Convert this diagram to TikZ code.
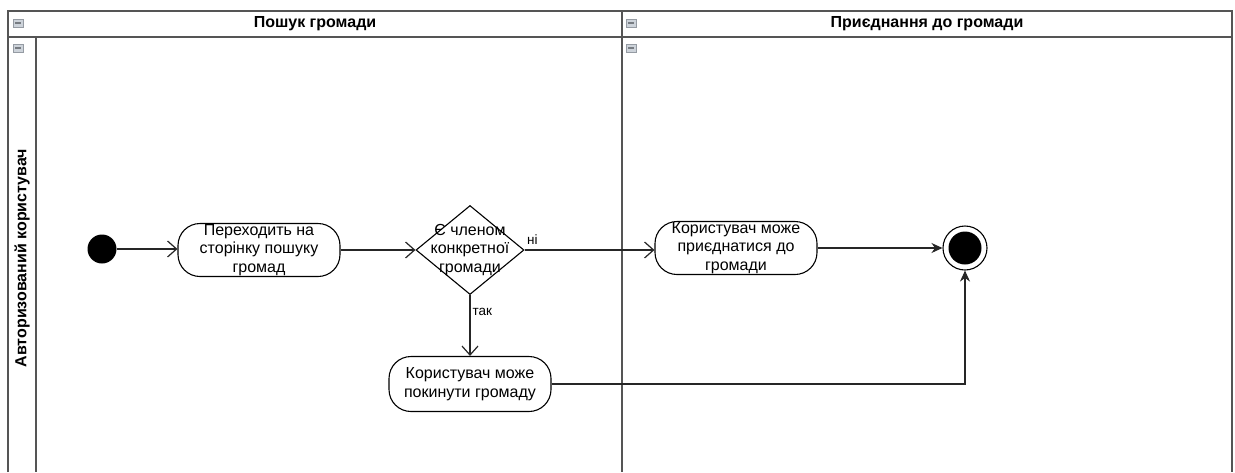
\documentclass[tikz,border=0pt]{standalone}
\usepackage{fontspec}
\setmainfont{Liberation Sans}
\usetikzlibrary{arrows.meta,shapes.geometric}
\definecolor{frame}{HTML}{555555}
\definecolor{iconfill}{HTML}{CDD3DA}
\definecolor{iconline}{HTML}{959BA3}
\begin{document}
\begin{tikzpicture}[x=1pt,y=-1pt,
  lanerule/.style={draw=frame,line width=1.5pt},
  icon/.style={draw=iconline,fill=iconfill,minimum width=10pt,minimum height=8.5pt,inner sep=0pt,
    path picture={\draw[iconline!80!black,line width=1.2pt]
      ([xshift=-3pt]path picture bounding box.center) -- ([xshift=3pt]path picture bounding box.center);}},
  hdr/.style={font=\bfseries\fontsize{16}{19}\selectfont},
  txt/.style={font=\fontsize{16}{18.5}\selectfont,align=center,inner sep=0pt},
  small/.style={font=\fontsize{13.5}{15}\selectfont,inner sep=0pt},
  actbox/.style={draw=black,line width=1.1pt,rounded corners=22pt,minimum width=162pt,minimum height=53pt,inner sep=0pt},
  decbox/.style={draw=black,line width=1.1pt,diamond,minimum width=108pt,minimum height=89pt,inner sep=0pt},
  flow/.style={draw=black!85,line width=1.1pt,-{Straight Barb[length=9pt,width=16pt,line width=1.2pt]}},
  flowend/.style={draw=black!85,line width=1.1pt,-{Stealth[length=11pt,width=10pt]}}
]
\useasboundingbox[fill=white] (0,0) rectangle (1235,472);

% swimlane frame
\draw[lanerule] (8,472) -- (8,11) -- (1232,11) -- (1232,472);
\draw[lanerule] (8,37) -- (1232,37);
\draw[lanerule] (36,37) -- (36,472);
\draw[lanerule] (622,11) -- (622,472);

% collapse icons
\node[icon] (icA) at (18,23) {};
\node[icon] (icB) at (18,48) {};
\node[icon] (icC) at (631,23) {};
\node[icon] (icD) at (631,48) {};

% headers
\node[hdr] (colA) at (315,24) {Пошук громади};
\node[hdr] (colB) at (927,24) {Приєднання до громади};
\node[hdr,rotate=90] (laneA) at (22,258) {Авторизований користувач};

% activity nodes
\node[circle,fill=black,minimum size=29pt,inner sep=0pt] (start) at (102,249) {};

\node[actbox] (act1) at (259,250) {};
\node[txt] (act1t) at (act1.center) {Переходить на\\сторінку пошуку\\громад};

\node[decbox] (dec) at (470,250) {};
\node[txt] (dect) at (dec.center) {Є членом\\конкретної\\громади};

\node[actbox] (act3) at (736,248) {};
\node[txt] (act3t) at (act3.center) {Користувач може\\приєднатися до\\громади};

\node[actbox,minimum height=55pt] (act2) at (470,384) {};
\node[txt] (act2t) at (act2.center) {Користувач може\\покинути громаду};

\node[circle,draw=black,line width=1.1pt,minimum size=44pt,inner sep=0pt] (end) at (965,248) {};
\node[circle,fill=black,minimum size=33pt,inner sep=0pt] (endin) at (end.center) {};

% control flow
\draw[flow] (start) -- (act1.west |- start);
\draw[flow] (act1.east) -- (dec.west);
\draw[flow] (dec.east) -- (act3.west |- dec.east) node[small,pos=0.06,above,yshift=5pt] (lblno) {ні};
\draw[flow] (dec.south) -- (act2.north) node[small,pos=0.27,right,xshift=2pt] (lblyes) {так};
\draw[flowend] (act3.east) -- (end.west);
\draw[flowend] (act2.east) -| (end.south);
\end{tikzpicture}
\end{document}
